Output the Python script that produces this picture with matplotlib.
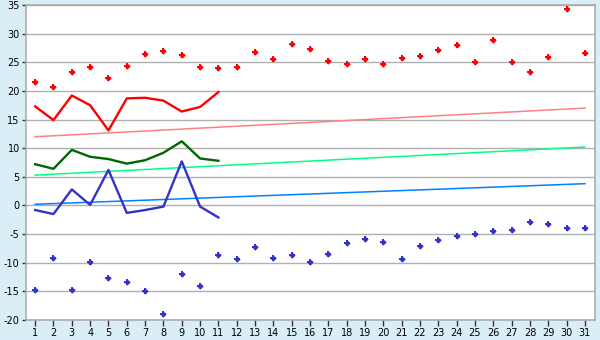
import matplotlib

matplotlib.use("Agg")
import matplotlib.pyplot as plt

plt.rcParams["axes.unicode_minus"] = False

days = list(range(1, 32))

# daily extremes (diamond markers)
max_temp = [21.5, 20.7, 23.3, 24.2, 22.2, 24.3, 26.4, 27.0, 26.3, 24.2, 24.0,
            24.2, 26.8, 25.6, 28.2, 27.3, 25.2, 24.7, 25.6, 24.7, 25.7, 26.1,
            27.1, 28.0, 25.0, 28.9, 25.0, 23.3, 25.9, 34.3, 26.6]
min_temp = [-14.8, -9.1, -14.7, -9.9, -12.6, -13.4, -15.0, -19.0, -12.0, -14.1, -8.7,
            -9.4, -7.3, -9.2, -8.7, -9.8, -8.5, -6.6, -5.9, -6.4, -9.4, -7.1,
            -6.1, -5.4, -5.0, -4.5, -4.3, -2.9, -3.3, -4.0, -4.0]

# observed series, first 11 days
obs_days = list(range(1, 12))
obs_max = [17.3, 14.9, 19.2, 17.5, 13.1, 18.7, 18.8, 18.3, 16.4, 17.2, 19.8]
obs_mean = [7.2, 6.4, 9.7, 8.5, 8.1, 7.3, 7.9, 9.2, 11.2, 8.2, 7.8]
obs_min = [-0.8, -1.5, 2.8, 0.1, 6.2, -1.3, -0.8, -0.2, 7.7, -0.2, -2.1]

# normals: start / end values of the straight trend lines
trend_days = [1, 31]
norm_max = [12.0, 17.0]
norm_mean = [5.3, 10.2]
norm_min = [0.2, 3.8]

bg = "#d9eef6"
fig = plt.figure(figsize=(6, 3.4), dpi=100, facecolor=bg)
ax = fig.add_axes([26 / 600, 20 / 340, 569 / 600, 315 / 340])
ax.set_facecolor("white")

ax.plot(trend_days, norm_max, color="#ff8080", lw=1.1)
ax.plot(trend_days, norm_mean, color="#00ff80", lw=1.1)
ax.plot(trend_days, norm_min, color="#0080ff", lw=1.1)

ax.plot(obs_days, obs_max, color="#ff0000", lw=1.7)
ax.plot(obs_days, obs_mean, color="#006600", lw=1.7)
ax.plot(obs_days, obs_min, color="#3333cc", lw=1.7)

for vals, col in ((max_temp, "#ff0000"), (min_temp, "#3333cc")):
    ax.plot(days, vals, ls="none", marker="D", ms=3.2, color=col, mew=0)
    ax.plot(days, vals, ls="none", marker="P", ms=5, color=col, mew=0)

ax.set_xlim(0.5, 31.55)
ax.set_ylim(-20, 35)
ax.set_xticks(days)
ax.set_yticks(range(-20, 36, 5))
ax.yaxis.grid(True, color="#b0b0b0", lw=1.0)
ax.set_axisbelow(True)
for side in ("left", "right", "top", "bottom"):
    ax.spines[side].set_color("#a8a8a8")
    ax.spines[side].set_linewidth(1.1)
ax.tick_params(axis="both", labelsize=7, color="#333333", length=4, width=1, pad=2)
ax.tick_params(axis="y", length=3, pad=1.5)

fig.savefig("out.png", dpi=100, facecolor=bg)
